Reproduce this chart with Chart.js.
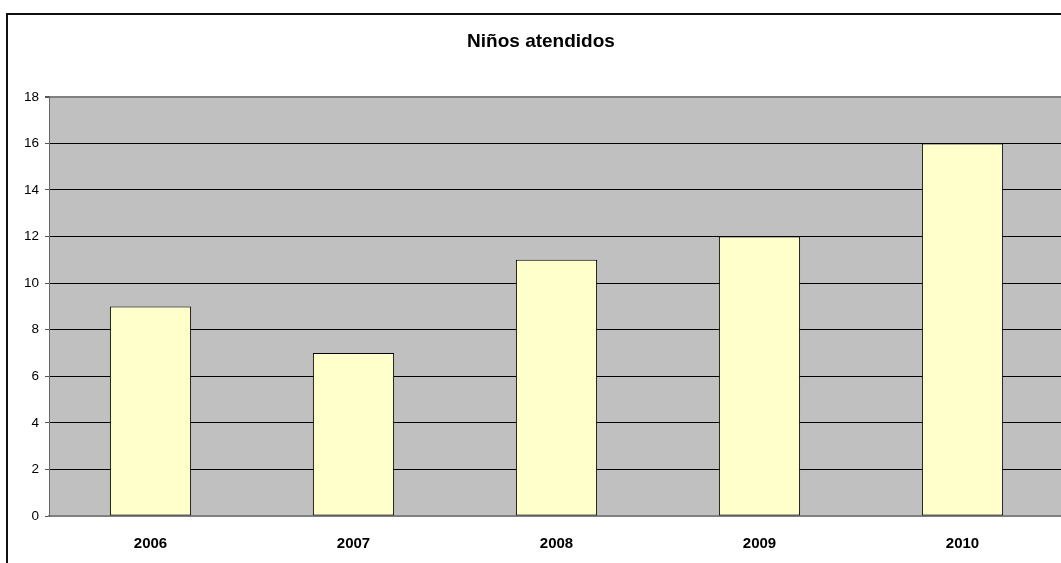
<!DOCTYPE html>
<html>
<head>
<meta charset="utf-8">
<script src="https://cdn.jsdelivr.net/npm/chart.js@4"></script>
<style>
  html, body { margin: 0; padding: 0; background: #fff; overflow: hidden; }
  #frame { position: absolute; left: 6px; top: 13px; width: 1080px; height: 560px;
           border-top: 2px solid #111; border-left: 2px solid #111; }
  #wrap { position: absolute; left: 0; top: 0; width: 1056px; height: 550px; }
</style>
</head>
<body>
<div id="frame"><div id="wrap"><canvas id="c"></canvas></div></div>
<script>
// Niños atendidos por año
const years = ["2006", "2007", "2008", "2009", "2010"];
const ninos = [9, 7, 11, 12, 16];
const yMax = 18, yStep = 2;

const FONT = "'Liberation Sans', Arial, sans-serif";

new Chart(document.getElementById("c"), {
  type: "bar",
  data: {
    labels: years,
    datasets: [{
      data: ninos, backgroundColor: "#FFFFCC", borderColor: "#000",
      borderWidth: 1, borderSkipped: false,
      categoryPercentage: 1, barPercentage: 0.4,
    }],
  },
  options: {
    responsive: true, maintainAspectRatio: false, animation: false,
    // the original chart runs past the right edge, so the title sits a bit right of centre
    layout: { padding: { left: 10, top: 0, bottom: 0, right: 0 } },
    plugins: {
      legend: { display: false }, tooltip: { enabled: false },
      title: {
        display: true, text: "Niños atendidos", color: "#000",
        font: { family: FONT, size: 19, weight: "bold" },
        padding: { top: 15, bottom: 44 },
      },
    },
    scales: {
      x: {
        grid: { display: false, drawTicks: false },
        border: { color: "#808080", width: 2 },
        ticks: { color: "#000", padding: 19, font: { family: FONT, size: 15, weight: "bold" } },
        afterFit: (s) => { s.height = 49; },
      },
      y: {
        min: 0, max: yMax,
        grid: {
          color: (c) => (c.tick && c.tick.value === yMax ? "#808080" : "#000"),
          lineWidth: (c) => (c.tick && c.tick.value === yMax ? 2 : 1),
          tickColor: "#555", tickLength: 4,
        },
        border: { color: "#666", width: 1 },
        ticks: { stepSize: yStep, color: "#000", padding: 6, font: { family: FONT, size: 13.5 } },
        afterFit: (s) => { s.width = 31; },
      },
    },
  },
  plugins: [{
    id: "plotBg",
    beforeDraw(chart) {
      const { ctx, chartArea: a } = chart;
      ctx.save();
      ctx.fillStyle = "#C0C0C0";
      ctx.fillRect(a.left, a.top, a.right - a.left, a.bottom - a.top);
      ctx.restore();
    },
  }],
});
</script>
</body>
</html>
